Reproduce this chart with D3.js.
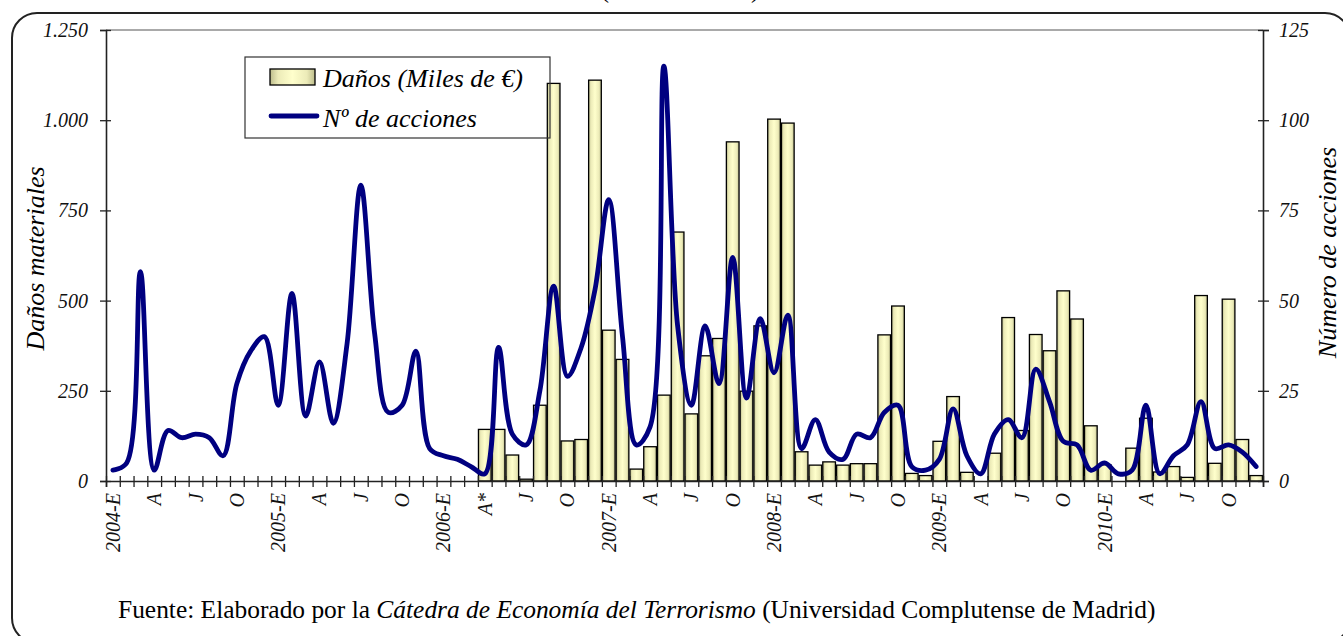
<!DOCTYPE html>
<html lang="es">
<head>
<meta charset="utf-8">
<title>Daños materiales y número de acciones</title>
<script src="https://d3js.org/d3.v7.min.js"></script>
<style>
  body { margin: 0; background: #fff; }
  svg { display: block; font-family: "Liberation Serif", "Times New Roman", serif; }
  .tick text { font-family: "Liberation Serif", "Times New Roman", serif; font-style: italic; font-size: 20px; fill: #111; }
</style>
</head>
<body>
<div id="chart"></div>
<script>
// monthly series, January 2004 .. December 2010
var xLabels = [
  "2004-E","","","A","","","J","","","O","","",
  "2005-E","","","A","","","J","","","O","","",
  "2006-E","","","A*","","","J","","","O","","",
  "2007-E","","","A","","","J","","","O","","",
  "2008-E","","","A","","","J","","","O","","",
  "2009-E","","","A","","","J","","","O","","",
  "2010-E","","","A","","","J","","","O","",""
];

// Nº de acciones (right axis)
var acciones = [
  3, 5, 58, 3, 14, 12, 13, 12, 7, 27, 36, 40,
  21, 52, 18, 33, 16, 38, 82, 41, 19, 21, 36, 9,
  7, 6, 4, 2, 37, 13, 10, 25, 54, 29, 37, 53,
  78, 40, 10, 15, 115, 43, 21, 43, 27, 62, 23, 45,
  30, 46, 9, 17, 8, 6, 13, 12, 19, 21, 4, 3,
  6, 20, 7, 2, 13, 17, 12, 31, 22, 11, 10, 3,
  5, 2, 3, 21, 2, 7, 10, 22, 9, 10, 8, 4
];

// Daños (miles de €) (left axis), no data before April 2006
var danos = [
  null, null, null, null, null, null, null, null, null, null, null, null,
  null, null, null, null, null, null, null, null, null, null, null, null,
  null, null, null, 143, 143, 72, 5, 210, 1102, 111, 115, 1111,
  418, 337, 33, 95, 238, 690, 186, 347, 395, 940, 249, 430,
  1003, 992, 81, 44, 53, 44, 48, 48, 405, 485, 21, 15,
  110, 234, 24, 0, 77, 453, 140, 406, 361, 527, 449, 153,
  45, 0, 91, 174, 25, 40, 10, 514, 49, 504, 115, 15
];

var leftTicks = [0, 250, 500, 750, 1000, 1250];
var rightTicks = [0, 25, 50, 75, 100, 125];

var w = 1343, h = 636;
var plot = {left: 106, right: 1263, top: 30, bottom: 481};

var svg = d3.select("#chart").append("svg")
    .attr("width", w)
    .attr("height", h);

var defs = svg.append("defs");
var grad = defs.append("linearGradient").attr("id", "barGrad")
    .attr("x1", 0).attr("x2", 1).attr("y1", 0).attr("y2", 0);
[["0%", "#bcbc8c"], ["18%", "#ecebb8"], ["50%", "#ffffcc"], ["82%", "#ecebb8"], ["100%", "#bcbc8c"]]
  .forEach(s => grad.append("stop").attr("offset", s[0]).attr("stop-color", s[1]));

var idx = d3.range(xLabels.length);

var xBand = d3.scaleBand().domain(idx).range([plot.left, plot.right]).padding(0);
var xLin = d3.scaleLinear().domain([0, xLabels.length]).range([plot.left, plot.right]);
var yL = d3.scaleLinear().domain([0, 1250]).range([plot.bottom, plot.top]);
var yR = d3.scaleLinear().domain([0, 125]).range([plot.bottom, plot.top]);

var es = d3.formatLocale({decimal: ",", thousands: ".", grouping: [3], currency: ["", " €"]});
var fmt = es.format(",");

// plot area frame (top edge)
svg.append("line")
    .attr("x1", plot.left).attr("x2", plot.right)
    .attr("y1", plot.top).attr("y2", plot.top)
    .attr("stroke", "#555").attr("stroke-width", 1);

// bars
var bw = xBand.bandwidth() * 0.92;
svg.append("g").selectAll("rect")
    .data(idx.filter(i => danos[i] !== null))
    .enter().append("rect")
    .attr("x", i => xBand(i) + (xBand.bandwidth() - bw) / 2)
    .attr("y", i => yL(danos[i]))
    .attr("width", bw)
    .attr("height", i => plot.bottom - yL(danos[i]))
    .attr("fill", "url(#barGrad)")
    .attr("stroke", "#000")
    .attr("stroke-width", 1.3);

// axes
var axL = svg.append("g").attr("transform", `translate(${plot.left},0)`)
    .call(d3.axisLeft(yL).tickValues(leftTicks).tickFormat(fmt).tickSize(6).tickPadding(12));
var axR = svg.append("g").attr("transform", `translate(${plot.right},0)`)
    .call(d3.axisRight(yR).tickValues(rightTicks).tickSize(6).tickPadding(10));
axL.selectAll(".tick line").attr("x1", 5).attr("x2", -6);
axR.selectAll(".tick line").attr("x1", -5).attr("x2", 6);

var axX = svg.append("g").attr("transform", `translate(0,${plot.bottom})`)
    .call(d3.axisBottom(xLin).tickValues(d3.range(xLabels.length + 1)).tickFormat("").tickSize(6));
axX.selectAll(".tick line").attr("y1", -5).attr("y2", 6);

var axXl = svg.append("g").attr("transform", `translate(0,${plot.bottom})`)
    .call(d3.axisBottom(xBand).tickValues(idx.filter(i => xLabels[i] !== ""))
      .tickFormat(i => xLabels[i]).tickSize(0));
axXl.select(".domain").remove();
axXl.selectAll(".tick text")
    .attr("transform", "rotate(-90)")
    .attr("x", -12).attr("y", 0).attr("dy", "0.35em")
    .style("text-anchor", "end");

[axL, axR, axX].forEach(a => {
  a.select(".domain").attr("stroke", "#222").attr("stroke-width", 1.6);
  a.selectAll(".tick line").attr("stroke", "#222").attr("stroke-width", 1.3);
});

// line
var line = d3.line()
    .x(i => xBand(i) + xBand.bandwidth() / 2)
    .y(i => yR(acciones[i]))
    .curve(d3.curveCatmullRom.alpha(0.5));

svg.append("path")
    .datum(idx)
    .attr("d", line)
    .attr("fill", "none")
    .attr("stroke", "#000080")
    .attr("stroke-width", 4.8)
    .attr("stroke-linejoin", "round")
    .attr("stroke-linecap", "round");

// axis titles
svg.append("text")
    .attr("transform", `translate(44,${(plot.top + plot.bottom) / 2 + 3}) rotate(-90)`)
    .attr("text-anchor", "middle")
    .attr("font-size", 26).attr("font-style", "italic")
    .text("Daños materiales");

svg.append("text")
    .attr("transform", `translate(1336,${(plot.top + plot.bottom) / 2 - 3}) rotate(-90)`)
    .attr("text-anchor", "middle")
    .attr("font-size", 26).attr("font-style", "italic")
    .text("Número de acciones");

// legend
var lg = svg.append("g");
lg.append("rect").attr("x", 245).attr("y", 57).attr("width", 305).attr("height", 81)
    .attr("fill", "none").attr("stroke", "#333").attr("stroke-width", 1.2);
lg.append("rect").attr("x", 270).attr("y", 69).attr("width", 45).attr("height", 16)
    .attr("fill", "url(#barGrad)").attr("stroke", "#000").attr("stroke-width", 1.3);
lg.append("line").attr("x1", 271).attr("x2", 317).attr("y1", 116).attr("y2", 116)
    .attr("stroke", "#000080").attr("stroke-width", 4.8).attr("stroke-linecap", "round");
lg.append("text").attr("x", 323).attr("y", 87)
    .attr("font-size", 26).attr("font-style", "italic").text("Daños (Miles de €)");
lg.append("text").attr("x", 323).attr("y", 127)
    .attr("font-size", 26).attr("font-style", "italic").text("Nº de acciones");

// cut-off heading at the very top
svg.append("text").attr("x", 601).attr("y", -2)
    .attr("font-size", 24).attr("textLength", 158).attr("lengthAdjust", "spacingAndGlyphs")
    .text("(Miles de euros)");

// source note
var src = svg.append("text").attr("font-size", 26);
src.append("tspan").text("Fuente: Elaborado por la ");
src.append("tspan").attr("font-style", "italic").text("Cátedra de Economía del Terrorismo");
src.append("tspan").text("  (Universidad Complutense de Madrid)");
var sw = src.node().getBBox().width;
src.attr("transform", `translate(118,618) scale(${1038 / sw},1)`);

// outer rounded frame
svg.append("rect").attr("x", 12).attr("y", 13).attr("width", 1338).attr("height", 630)
    .attr("rx", 25).attr("fill", "none").attr("stroke", "#222").attr("stroke-width", 2);
</script>
</body>
</html>
